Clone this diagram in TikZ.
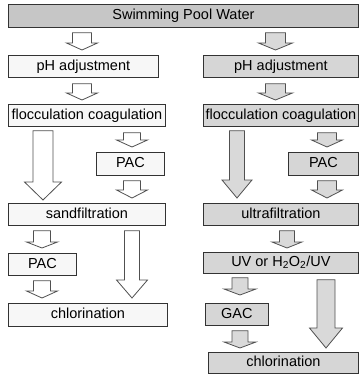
\documentclass[tikz,border=0pt]{standalone}
\usepackage{fontspec}
\setmainfont{Liberation Sans}
\usetikzlibrary{calc}
\definecolor{boxline}{HTML}{333333}
\definecolor{arrline}{HTML}{505050}
\definecolor{lfill}{HTML}{F7F7F7}
\definecolor{rfill}{HTML}{D6D6D6}
\definecolor{tfill}{HTML}{C6C6C6}
\definecolor{rarrfill}{HTML}{D9D9D9}
% #1 from, #2 to, #3 shaft half width, #4 head half width, #5 head length, #6 fill
\newcommand{\blockarrow}[6]{%
  \draw[arrowline, fill=#6] let \p1=#1, \p2=#2 in
    (\x1-#3pt,\y1) -- (\x1+#3pt,\y1) -- (\x1+#3pt,\y2+#5pt) -- (\x1+#4pt,\y2+#5pt)
    -- (\x1,\y2) -- (\x1-#4pt,\y2+#5pt) -- (\x1-#3pt,\y2+#5pt) -- cycle;}
\begin{document}
\begin{tikzpicture}[x=1pt,y=-1pt,
  font=\fontsize{14.5}{17}\selectfont,
  procbox/.style={draw=boxline, line width=0.8pt, anchor=north west, inner sep=0pt,
    text height=10.5pt, text depth=3pt},
  lbox/.style={procbox, fill=lfill},
  rbox/.style={procbox, fill=rfill},
  arrowline/.style={draw=arrline, line width=0.8pt, line join=miter}]
\useasboundingbox (0,0) rectangle (359,374);
% boxes
\node[procbox, fill=tfill, minimum width=350pt, minimum height=23pt] (title) at (8,4) {Swimming Pool Water};
\node[lbox, minimum width=150pt, minimum height=22pt] (phL) at (8,55) {pH adjustment};
\node[rbox, minimum width=155pt, minimum height=22pt] (phR) at (203,55) {pH adjustment};
\node[lbox, minimum width=157pt, minimum height=22pt] (flocL) at (8,104) {flocculation coagulation};
\node[rbox, minimum width=155pt, minimum height=22pt] (flocR) at (203,104) {flocculation coagulation};
\node[lbox, minimum width=68pt, minimum height=23pt] (pacLa) at (96,152) {PAC};
\node[rbox, minimum width=70pt, minimum height=23pt] (pacRa) at (288,152) {PAC};
\node[lbox, minimum width=157pt, minimum height=22pt] (sandL) at (8,203) {sandfiltration};
\node[rbox, minimum width=155pt, minimum height=22pt] (ultraR) at (203,203) {ultrafiltration};
\node[lbox, minimum width=68pt, minimum height=22pt] (pacLb) at (8,253) {PAC};
\node[rbox, minimum width=155pt, minimum height=21pt] (uvR) at (203,252) {UV or H\textsubscript{2}O\textsubscript{2}/UV};
\node[lbox, minimum width=159pt, minimum height=23pt] (chlL) at (8,303) {chlorination};
\node[rbox, minimum width=63pt, minimum height=22pt] (gacR) at (205,303) {GAC};
\node[rbox, minimum width=150pt, minimum height=21pt] (chlR) at (208,352) {chlorination};
% arrows, left column
\blockarrow{($(title.south -| 82,0)+(0,5)$)}{($(phL.north -| 82,0)+(0,-5)$)}{9.5}{15.5}{7}{white}
\blockarrow{($(phL.south -| 82,0)+(0,6)$)}{($(flocL.north -| 82,0)+(0,-4)$)}{9.5}{15.5}{7}{white}
\blockarrow{($(flocL.south -| 43,0)+(0,4)$)}{($(sandL.north -| 43,0)+(0,-3)$)}{10}{18.5}{18}{white}
\blockarrow{($(flocL.south -| 132,0)+(0,6)$)}{($(pacLa.north -| 132,0)+(0,-5)$)}{8.5}{15.5}{7}{white}
\blockarrow{($(pacLa.south -| 132,0)+(0,5)$)}{($(sandL.north -| 132,0)+(0,-5)$)}{8.5}{15.5}{8}{white}
\blockarrow{($(sandL.south -| 42,0)+(0,5)$)}{($(pacLb.north -| 42,0)+(0,-5)$)}{8.5}{15.5}{6}{white}
\blockarrow{($(sandL.south -| 132,0)+(0,5)$)}{($(chlL.north -| 132,0)+(0,-5)$)}{7.5}{15.5}{18}{white}
\blockarrow{($(pacLb.south -| 42,0)+(0,5)$)}{($(chlL.north -| 42,0)+(0,-5)$)}{8.5}{15.5}{7}{white}
% arrows, right column
\blockarrow{($(title.south -| 275.5,0)+(0,5)$)}{($(phR.north -| 275.5,0)+(0,-5)$)}{10}{17}{7}{rarrfill}
\blockarrow{($(phR.south -| 275.5,0)+(0,6)$)}{($(flocR.north -| 275.5,0)+(0,-4)$)}{10}{17}{7}{rarrfill}
\blockarrow{($(flocR.south -| 237,0)+(0,4)$)}{($(ultraR.north -| 237,0)+(0,-5)$)}{7.5}{15}{18}{rarrfill}
\blockarrow{($(flocR.south -| 327,0)+(0,6)$)}{($(pacRa.north -| 327,0)+(0,-5)$)}{9.5}{15.5}{7}{rarrfill}
\blockarrow{($(pacRa.south -| 327,0)+(0,5)$)}{($(ultraR.north -| 327,0)+(0,-5)$)}{9.5}{15.5}{8}{rarrfill}
\blockarrow{($(ultraR.south -| 287,0)+(0,5)$)}{($(uvR.north -| 287,0)+(0,-4)$)}{7.5}{15}{6}{rarrfill}
\blockarrow{($(uvR.south -| 240,0)+(0,4)$)}{($(gacR.north -| 240,0)+(0,-8)$)}{8}{16}{6}{rarrfill}
\blockarrow{($(uvR.south -| 326,0)+(0,6)$)}{($(chlR.north -| 326,0)+(0,-4)$)}{9}{16.5}{20}{rarrfill}
\blockarrow{($(gacR.south -| 240,0)+(0,5)$)}{($(chlR.north -| 240,0)+(0,-4)$)}{8}{16}{6}{rarrfill}
\end{tikzpicture}
\end{document}
